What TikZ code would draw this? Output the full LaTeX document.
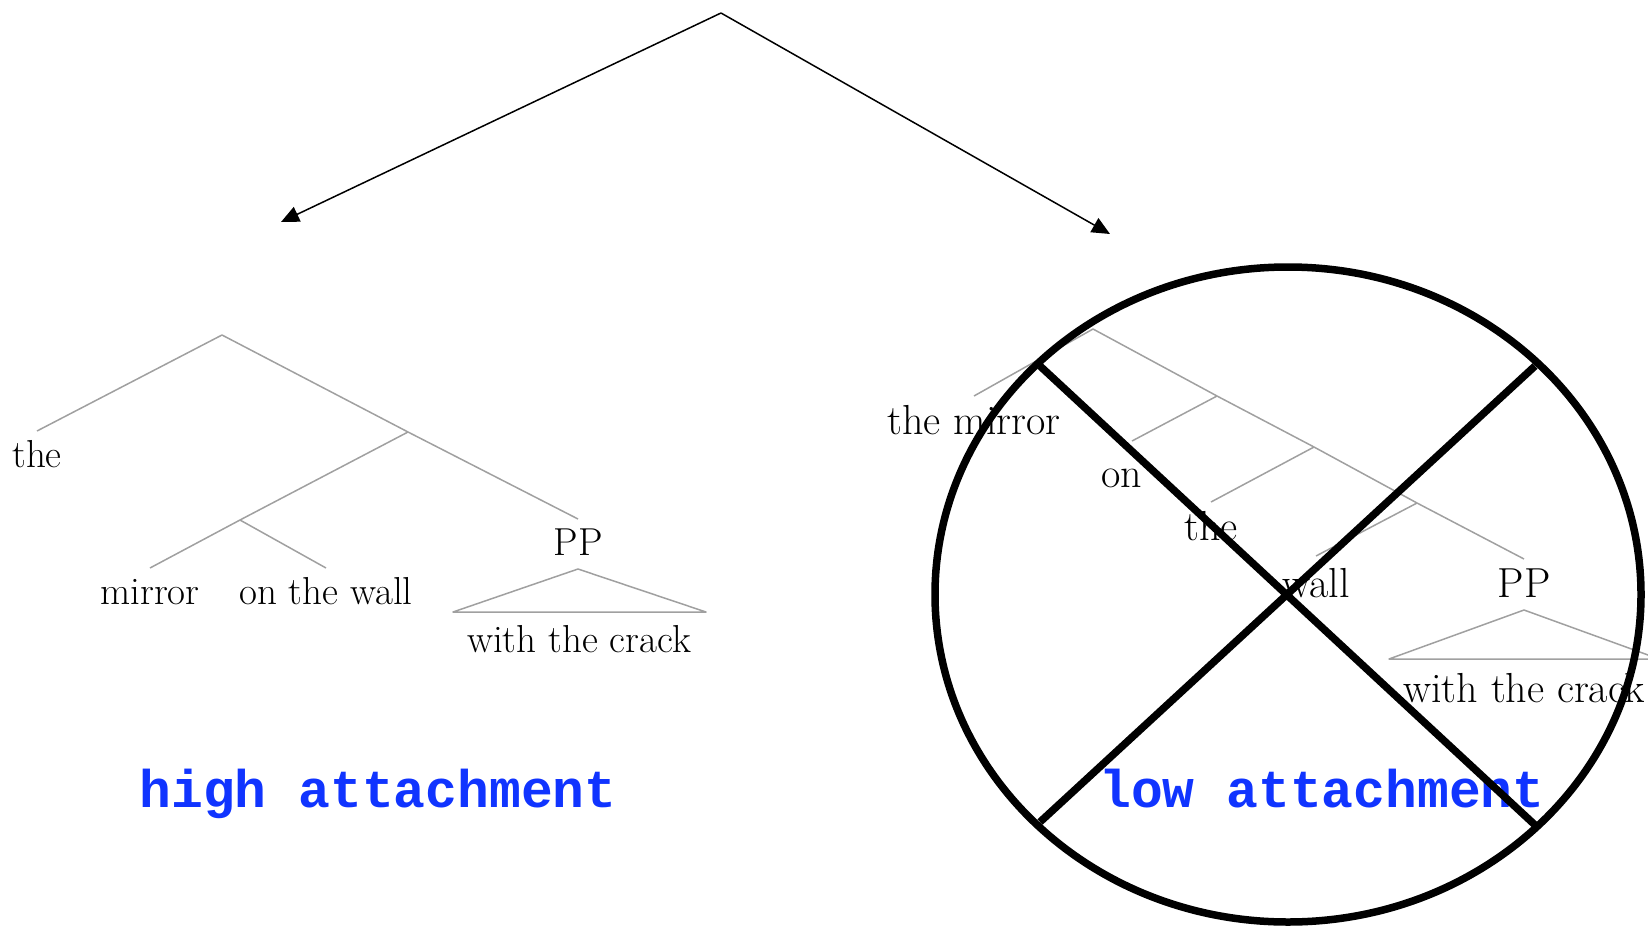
\documentclass[tikz,border=0pt]{standalone}
\usepackage{fontspec}
\newfontfamily\codefont{Liberation Mono}
\usetikzlibrary{arrows.meta}
\definecolor{labelblue}{RGB}{16,52,255}
\definecolor{treegray}{RGB}{160,160,160}
\begin{document}
\begin{tikzpicture}[x=1pt,y=-1pt,
  tree/.style={draw=treegray, line width=1.5pt, line join=round},
  leafL/.style={font=\fontsize{39}{46}\selectfont, inner sep=0pt, outer ysep=9pt, text height=27pt, text depth=9pt, anchor=north},
  leafR/.style={font=\fontsize{42}{50}\selectfont, inner sep=0pt, outer ysep=9pt, text height=29pt, text depth=9pt, anchor=north},
  arr/.style={line width=1.5pt, -{Triangle[length=18pt,width=16pt]}},
  cross/.style={line width=7.5pt},
  attlabel/.style={font=\codefont\bfseries\fontsize{53}{60}\selectfont, text=labelblue, anchor=base, inner sep=0pt}]
\clip (0,0) rectangle (1648,926);

% top arrows
\coordinate (top) at (721,13);
\coordinate (hi) at (281,222);
\coordinate (lo) at (1110,234);
\draw[arr] (top) -- (hi);
\draw[arr] (top) -- (lo);

% left tree (high attachment)
\coordinate (L-root) at (222,335);
\coordinate (L-mid) at (408,432);
\coordinate (L-sub) at (240,520);
\node[leafL] (L-the) at (37,431) {the};
\node[leafL] (L-mirror) at (150,568) {mirror};
\node[leafL] (L-wall) at (326,568) {on the wall};
\node[leafL] (L-PP) at (578,519) {PP};
\coordinate (L-tri-top) at (578,569);
\coordinate (L-tri-l) at (453,612);
\coordinate (L-tri-r) at (706,612);
\node[leafL, outer ysep=13pt] (L-crack) at (579,612) {with the crack};
\draw[tree] (L-the.north) -- (L-root) -- (L-mid) -- (L-PP.north);
\draw[tree] (L-mid) -- (L-sub);
\draw[tree] (L-mirror.north) -- (L-sub) -- (L-wall.north);
\draw[tree] (L-tri-top) -- (L-tri-l) -- (L-tri-r) -- cycle;

% right tree (low attachment)
\coordinate (R-root) at (1093,329);
\coordinate (R-n1) at (1217,396);
\coordinate (R-n2) at (1314,447);
\coordinate (R-n3) at (1417,503);
\node[leafR] (R-mirror) at (974,396) {the mirror};
\node[leafR, outer ysep=17pt] (R-on) at (1122,441) {on};
\node[leafR] (R-the) at (1211,502) {the};
\node[leafR, outer ysep=12pt] (R-wall) at (1316,556) {wall};
\node[leafR] (R-PP) at (1524,559) {PP};
\coordinate (R-tri-top) at (1524,610);
\coordinate (R-tri-l) at (1389,659);
\coordinate (R-tri-r) at (1659,659);
\node[leafR, outer ysep=14pt] (R-crack) at (1524,659) {with the crack};
\draw[tree] (R-mirror.north) -- (R-root) -- (R-n1) -- (R-n2) -- (R-n3) -- (R-PP.north);
\draw[tree] (R-n1) -- ([xshift=10pt]R-on.north);
\draw[tree] (R-n2) -- (R-the.north);
\draw[tree] (R-n3) -- (R-wall.north);
\draw[tree] (R-tri-top) -- (R-tri-l) -- (R-tri-r) -- cycle;

% labels
\node[attlabel] (high) at (378,807) {high attachment};
\node[attlabel] (low) at (1322,807) {low attachment};

% crossed-out ellipse
\draw[cross] (1288,594.5) ellipse [x radius=353pt, y radius=327.5pt];
\coordinate (x1) at (1040,366);
\coordinate (x2) at (1535,825);
\coordinate (x3) at (1535,366);
\coordinate (x4) at (1040,822);
\draw[cross] (x1) -- (x2);
\draw[cross] (x3) -- (x4);
\end{tikzpicture}
\end{document}
